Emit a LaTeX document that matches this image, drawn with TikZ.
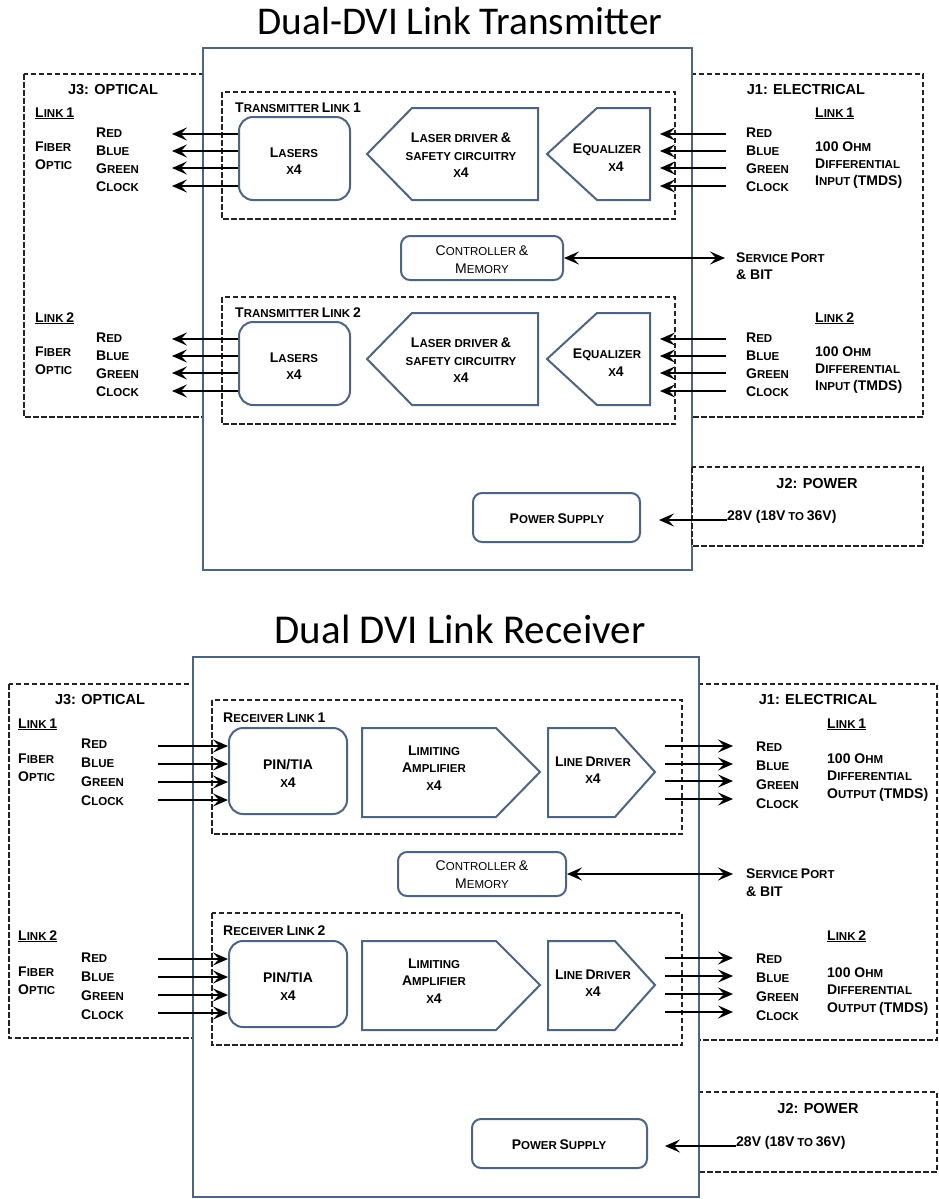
\documentclass[tikz,border=0pt]{standalone}
\usepackage{fontspec}
\setmainfont{Liberation Sans}
\newfontfamily\titlefont{Carlito}
\usetikzlibrary{arrows.meta}
\definecolor{boxblue}{RGB}{78,100,132}
\definecolor{dashcol}{RGB}{35,35,35}
\newcommand\Bg[1]{{\fontsize{14}{16}\selectfont #1}}
\newcommand\Sm[1]{{\fontsize{11.5}{16}\selectfont #1}}
\newcommand\Hd[1]{{\fontsize{14.5}{16}\selectfont #1}}
\newcommand\xf{\Sm{X}\Bg{4}}
\tikzset{
  mainbox/.style={draw=boxblue, line width=2.4pt},
  portbox/.style={draw=dashcol, line width=1.6pt, dash pattern=on 5.5pt off 2.5pt},
  blk/.style={draw=boxblue, line width=2pt, fill=white, line join=miter},
  rblk/.style={blk, rounded corners=14pt, inner sep=0pt},
  sblk/.style={blk, rounded corners=9pt, inner sep=0pt},
  arr/.style={line width=1.8pt, -{Stealth[length=15pt,width=13pt,inset=6pt]}},
  darr/.style={line width=1.8pt, {Stealth[length=15pt,width=13pt,inset=6pt]}-{Stealth[length=15pt,width=13pt,inset=6pt]}},
  lab/.style={font=\bfseries, inner sep=0pt, anchor=base west},
  labc/.style={font=\bfseries, inner sep=0pt, anchor=base},
  labn/.style={font=\mdseries, inner sep=0pt, anchor=base},
  ttl/.style={font=\titlefont, inner sep=0pt, anchor=base},
}
% colour list: name prefix, x, first baseline, step
\newcommand\rgbc[4]{%
  \foreach \A/\B [count=\i from 0] in {R/ED,B/LUE,G/REEN,C/LOCK}
    \node[lab] (#1\i) at (#2,#3+\i*#4) {\Bg{\A}\Sm{\B}};}
% ohm list: name prefix, x, first baseline, step, last line
\newcommand\ohmlist[5]{%
  \node[lab] (#1a) at (#2,#3) {\Bg{100 O}\Sm{HM}};
  \node[lab] (#1b) at (#2,#3+#4) {\Bg{D}\Sm{IFFERENTIAL}};
  \node[lab] (#1c) at (#2,#3+2*#4) {#5};}
\newcommand\fiber[3]{%
  \node[lab] (#1a) at (#2,#3) {\Bg{F}\Sm{IBER}};
  \node[lab] (#1b) at (#2,#3+18) {\Bg{O}\Sm{PTIC}};}
\begin{document}
\begin{tikzpicture}[x=1pt,y=-1pt]
\fill[white] (0,0) rectangle (939,1199);
\useasboundingbox (0,0) rectangle (939,1199);

%================ TRANSMITTER =================
\node[ttl, font=\titlefont\fontsize{39.3}{42}\selectfont] (title1) at (460,35) {Dual-DVI Link Transmitter};
\draw[portbox] (24,74) rectangle (203,417);
\draw[portbox] (692,74) rectangle (923,417);
\draw[mainbox] (203,48) rectangle (692,570);
\draw[portbox, fill=white] (692,467) rectangle (923,546);

% link boxes
\draw[portbox] (222,92) rectangle (675,219);
\draw[portbox] (222,297) rectangle (675,424);
\node[lab] (tl1) at (235,112) {\Bg{T}\Sm{RANSMITTER} \Bg{L}\Sm{INK} \Bg{1}};
\node[lab] (tl2) at (235,317) {\Bg{T}\Sm{RANSMITTER} \Bg{L}\Sm{INK} \Bg{2}};

% link 1 blocks
\node[rblk, minimum width=111pt, minimum height=83pt] (las1) at (294.5,158.5) {};
\draw[blk] (367,154) -- (412,108) -- (538,108) -- (538,200) -- (412,200) -- cycle;
\draw[blk] (547,154) -- (597,108) -- (650,108) -- (650,200) -- (597,200) -- cycle;
\coordinate (eq1in) at (660,154);
% link 2 blocks
\node[rblk, minimum width=111pt, minimum height=83pt] (las2) at (294.5,363.5) {};
\draw[blk] (367,359) -- (412,313) -- (538,313) -- (538,405) -- (412,405) -- cycle;
\draw[blk] (547,359) -- (597,313) -- (650,313) -- (650,405) -- (597,405) -- cycle;
\coordinate (eq2in) at (660,359);

% block texts
\node[labc] (las1a) at (294,157) {\Bg{L}\Sm{ASERS}};
\node[labc] (las1b) at (294,174) {\xf};
\node[labc] (ldr1a) at (461,142) {\Bg{L}\Sm{ASER DRIVER} \Bg{\&}};
\node[labc] (ldr1b) at (461,160) {\Sm{SAFETY CIRCUITRY}};
\node[labc] (ldr1c) at (461,177) {\xf};
\node[labc] (eqz1a) at (607,153) {\Bg{E}\Sm{QUALIZER}};
\node[labc] (eqz1b) at (616,171) {\xf};
\node[labc] (las2a) at (294,362) {\Bg{L}\Sm{ASERS}};
\node[labc] (las2b) at (294,379) {\xf};
\node[labc] (ldr2a) at (461,347) {\Bg{L}\Sm{ASER DRIVER} \Bg{\&}};
\node[labc] (ldr2b) at (461,365) {\Sm{SAFETY CIRCUITRY}};
\node[labc] (ldr2c) at (461,382) {\xf};
\node[labc] (eqz2a) at (607,358) {\Bg{E}\Sm{QUALIZER}};
\node[labc] (eqz2b) at (616,376) {\xf};

% controller & power
\node[sblk, minimum width=162pt, minimum height=44pt] (ctl1) at (482,258) {};
\node[labn] (ctl1a) at (482,255) {\Bg{C}\Sm{ONTROLLER} \Bg{\&}};
\node[labn] (ctl1b) at (482,273) {\Bg{M}\Sm{EMORY}};
\node[sblk, minimum width=167pt, minimum height=49pt] (pwr1) at (556.5,517.5) {};
\node[labc] (pwr1t) at (557,523) {\Bg{P}\Sm{OWER} \Bg{S}\Sm{UPPLY}};

% left port texts
\node[labc] (j3a) at (113,94) {\Hd{J3: OPTICAL}};
\node[lab] (lkl1) at (35,117) {\underline{\Bg{L}\Sm{INK} \Bg{1}}};
\node[lab] (lkl2) at (35,322) {\underline{\Bg{L}\Sm{INK} \Bg{2}}};
\fiber{fba}{35}{151}
\fiber{fbb}{35}{356}
\rgbc{cla}{96}{137}{18.3}
\rgbc{clb}{96}{342}{18.3}
% right port texts
\node[labc] (j1a) at (806,94) {\Hd{J1: ELECTRICAL}};
\node[lab] (lkr1) at (815,117) {\underline{\Bg{L}\Sm{INK} \Bg{1}}};
\node[lab] (lkr2) at (815,322) {\underline{\Bg{L}\Sm{INK} \Bg{2}}};
\rgbc{clc}{746}{137}{18.3}
\rgbc{cld}{746}{342}{18.3}
\ohmlist{oha}{815}{151}{17}{\Bg{I}\Sm{NPUT} \Bg{(TMDS)}}
\ohmlist{ohb}{815}{356}{17}{\Bg{I}\Sm{NPUT} \Bg{(TMDS)}}
\node[lab] (sp1a) at (736,262) {\Bg{S}\Sm{ERVICE} \Bg{P}\Sm{ORT}};
\node[lab] (sp1b) at (736,279) {\Bg{\& BIT}};
\node[labc] (j2a) at (817,488) {\Hd{J2: POWER}};
\node[lab] (v28a) at (727,520) {\Bg{28V (18V} \Sm{TO} \Bg{36V)}};

% arrows transmitter
\foreach \yy [count=\i] in {134,151,168,186} {
  \coordinate (oa\i) at (172,\yy);
  \draw[arr] (oa\i -| las1.west) -- (oa\i);
  \coordinate (ia\i) at (726,\yy);
  \draw[arr] (ia\i) -- (ia\i -| eq1in);
}
\foreach \yy [count=\i] in {339,356,373,391} {
  \coordinate (ob\i) at (172,\yy);
  \draw[arr] (ob\i -| las2.west) -- (ob\i);
  \coordinate (ib\i) at (726,\yy);
  \draw[arr] (ib\i) -- (ib\i -| eq2in);
}
\coordinate (sp1) at (725,258);
\draw[darr] (ctl1.east) -- (sp1);
\coordinate (pw1) at (727,520);
\coordinate (pw1t) at (659,520);
\draw[arr] (pw1) -- (pw1t);

%================ RECEIVER =================
\node[ttl, font=\titlefont\fontsize{41}{44}\selectfont] (title2) at (460,643) {Dual DVI Link Receiver};
\draw[portbox] (9,684) rectangle (193,1038);
\draw[portbox] (699,684) rectangle (937,1040);
\draw[portbox] (699,1092) rectangle (937,1172);
\draw[mainbox] (193,657) rectangle (699,1197);

\draw[portbox] (212,700) rectangle (682,834);
\draw[portbox] (212,913) rectangle (682,1045);
\node[lab] (rl1) at (223,722) {\Bg{R}\Sm{ECEIVER} \Bg{L}\Sm{INK} \Bg{1}};
\node[lab] (rl2) at (223,935) {\Bg{R}\Sm{ECEIVER} \Bg{L}\Sm{INK} \Bg{2}};

% link 1 blocks
\node[rblk, minimum width=118pt, minimum height=86pt] (pin1) at (288,771) {};
\draw[blk] (362,728) -- (496,728) -- (540,772) -- (496,817) -- (362,817) -- cycle;
\draw[blk] (548,728) -- (615,728) -- (655,772) -- (615,817) -- (548,817) -- cycle;
\coordinate (ld1out) at (665,772);
% link 2 blocks
\node[rblk, minimum width=118pt, minimum height=86pt] (pin2) at (288,984) {};
\draw[blk] (362,941) -- (496,941) -- (540,985) -- (496,1030) -- (362,1030) -- cycle;
\draw[blk] (548,941) -- (615,941) -- (655,985) -- (615,1030) -- (548,1030) -- cycle;
\coordinate (ld2out) at (665,985);

\node[labc] (pin1a) at (288,769) {\Bg{PIN/TIA}};
\node[labc] (pin1b) at (288,787) {\xf};
\node[labc] (lam1a) at (434,755) {\Bg{L}\Sm{IMITING}};
\node[labc] (lam1b) at (434,772) {\Bg{A}\Sm{MPLIFIER}};
\node[labc] (lam1c) at (434,790) {\xf};
\node[labc] (lnd1a) at (593,766) {\Bg{L}\Sm{INE} \Bg{D}\Sm{RIVER}};
\node[labc] (lnd1b) at (593,783) {\xf};
\node[labc] (pin2a) at (288,982) {\Bg{PIN/TIA}};
\node[labc] (pin2b) at (288,1000) {\xf};
\node[labc] (lam2a) at (434,968) {\Bg{L}\Sm{IMITING}};
\node[labc] (lam2b) at (434,985) {\Bg{A}\Sm{MPLIFIER}};
\node[labc] (lam2c) at (434,1003) {\xf};
\node[labc] (lnd2a) at (593,979) {\Bg{L}\Sm{INE} \Bg{D}\Sm{RIVER}};
\node[labc] (lnd2b) at (593,996) {\xf};

\node[sblk, minimum width=168pt, minimum height=44pt] (ctl2) at (482,874) {};
\node[labn] (ctl2a) at (482,870) {\Bg{C}\Sm{ONTROLLER} \Bg{\&}};
\node[labn] (ctl2b) at (482,888) {\Bg{M}\Sm{EMORY}};
\node[sblk, minimum width=175pt, minimum height=49pt] (pwr2) at (559.5,1143.5) {};
\node[labc] (pwr2t) at (559,1149) {\Bg{P}\Sm{OWER} \Bg{S}\Sm{UPPLY}};

\node[labc] (j3b) at (100,704) {\Hd{J3: OPTICAL}};
\node[lab] (lkl3) at (18,728) {\underline{\Bg{L}\Sm{INK} \Bg{1}}};
\node[lab] (lkl4) at (18,940) {\underline{\Bg{L}\Sm{INK} \Bg{2}}};
\fiber{fbc}{18}{763}
\fiber{fbd}{18}{976}
\rgbc{cle}{81}{748}{19}
\rgbc{clf}{81}{962}{19}

\node[labc] (j1b) at (818,704) {\Hd{J1: ELECTRICAL}};
\node[lab] (lkr3) at (827,728) {\underline{\Bg{L}\Sm{INK} \Bg{1}}};
\node[lab] (lkr4) at (827,940) {\underline{\Bg{L}\Sm{INK} \Bg{2}}};
\rgbc{clg}{756}{751}{19.3}
\rgbc{clh}{756}{963}{19.3}
\ohmlist{ohc}{827}{763}{17.5}{\Bg{O}\Sm{UTPUT} \Bg{(TMDS)}}
\ohmlist{ohd}{827}{977}{17.5}{\Bg{O}\Sm{UTPUT} \Bg{(TMDS)}}
\node[lab] (sp2a) at (746,878) {\Bg{S}\Sm{ERVICE} \Bg{P}\Sm{ORT}};
\node[lab] (sp2b) at (746,896) {\Bg{\& BIT}};
\node[labc] (j2b) at (818,1113) {\Hd{J2: POWER}};
\node[lab] (v28b) at (736,1146) {\Bg{28V (18V} \Sm{TO} \Bg{36V)}};

% arrows receiver
\foreach \yy [count=\i] in {746,764,782,800} {
  \coordinate (ic\i) at (158,\yy);
  \draw[arr] (ic\i) -- (ic\i -| pin1.west);
}
\foreach \yy [count=\i] in {746,764,781,799} {
  \coordinate (oc\i) at (733,\yy);
  \draw[arr] (oc\i -| ld1out) -- (oc\i);
}
\foreach \yy [count=\i] in {959,977,995,1013} {
  \coordinate (id\i) at (158,\yy);
  \draw[arr] (id\i) -- (id\i -| pin2.west);
}
\foreach \yy [count=\i] in {958,976,994,1012} {
  \coordinate (od\i) at (733,\yy);
  \draw[arr] (od\i -| ld2out) -- (od\i);
}
\coordinate (sp2) at (733,874);
\draw[darr] (ctl2.east) -- (sp2);
\coordinate (pw2) at (736,1146);
\coordinate (pw2t) at (665,1146);
\draw[arr] (pw2) -- (pw2t);
\end{tikzpicture}
\end{document}
